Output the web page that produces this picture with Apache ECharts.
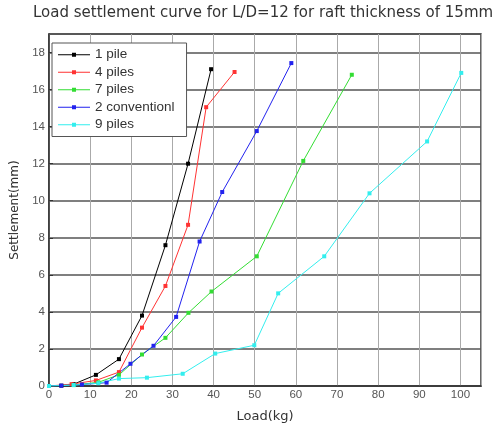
<!DOCTYPE html>
<html><head><meta charset="utf-8">
<script src="https://cdn.jsdelivr.net/npm/echarts@6/dist/echarts.min.js"></script>
<style>html,body{margin:0;padding:0;background:#fff}#c{width:504px;height:428px}</style>
</head><body><div id="c"></div>
<script>
const seriesNames = ['1 pile','4 piles','7 piles','2 conventionl','9 piles'];
const onePile = [[0,0],[3,0.02],[6,0.1],[11.4,0.6],[17,1.45],[22.6,3.8],[28.3,7.6],[33.8,12],[39.4,17.1]];
const fourPiles = [[0,0],[5.5,0.1],[11.4,0.3],[17,0.75],[22.6,3.15],[28.3,5.4],[33.8,8.7],[38.2,15.05],[45.1,16.95]];
const sevenPiles = [[0,0],[6,0.05],[12,0.2],[17,0.6],[22.6,1.7],[28.3,2.6],[33.9,3.95],[39.5,5.1],[50.5,7.0],[61.8,12.15],[73.6,16.8]];
const twoConv = [[0,0],[3,0.02],[8,0.08],[14,0.18],[19.8,1.2],[25.4,2.17],[30.9,3.73],[36.6,7.8],[42.1,10.47],[50.5,13.76],[58.9,17.43]];
const ninePiles = [[0,0],[6,0.05],[12,0.15],[17,0.4],[23.8,0.45],[32.5,0.66],[40.4,1.75],[49.9,2.2],[55.7,5],[66.9,7],[77.9,10.4],[91.9,13.2],[100.2,16.9]];
const colors = ['#000000','#ff3333','#33dd33','#2222ee','#33eeee'];
const allData = [onePile,fourPiles,sevenPiles,twoConv,ninePiles];

const chart = echarts.init(document.getElementById('c'));
chart.setOption({
  animation:false,
  textStyle:{fontFamily:'Liberation Sans'},
  title:{text:'Load settlement curve for L/D=12 for raft thickness of 15mm',left:33,top:6,padding:0,
    textStyle:{fontSize:15,fontWeight:'normal',color:'#333',fontFamily:'DejaVu Sans'}},
  grid:{left:49,right:23,top:34,bottom:40,show:true,borderColor:'#333',borderWidth:1.5},
  legend:{left:52,top:43,orient:'vertical',itemGap:2,itemWidth:32,itemHeight:12,
    backgroundColor:'#fff',borderColor:'#555',borderWidth:1,padding:[4,12,4,6],
    textStyle:{fontSize:13.5,lineHeight:15.5,color:'#333',fontFamily:'Liberation Sans'},
    data:seriesNames.map(n=>({name:n,icon:'path://M0,4.5 L32,4.5 L32,5.5 L0,5.5 Z M14,3 L18,3 L18,7 L14,7 Z'}))},
  xAxis:{type:'value',min:0,max:105,interval:10,
    name:'Load(kg)',nameLocation:'middle',nameGap:24,nameTextStyle:{fontSize:13,color:'#333',fontFamily:'DejaVu Sans'},
    axisLine:{lineStyle:{color:'#333',width:1.5}},axisTick:{show:false},
    axisLabel:{color:'#555',fontSize:11.5,margin:3,showMaxLabel:false},
    splitLine:{lineStyle:{color:'#aaa',width:1}}},
  yAxis:{type:'value',min:0,max:19,interval:2,
    name:'Settlement(mm)',nameLocation:'middle',nameGap:28,nameTextStyle:{fontSize:12,color:'#333',fontFamily:'DejaVu Sans'},
    axisLine:{lineStyle:{color:'#333',width:1.5}},axisTick:{show:true,inside:true,length:4,lineStyle:{color:'#333'}},
    axisLabel:{color:'#555',fontSize:11.5,margin:4,showMaxLabel:false},
    splitLine:{lineStyle:{color:'#555',width:1.5}}},
  series: seriesNames.map((n,i)=>({
    name:n,type:'line',data:allData[i],symbol:'rect',symbolSize:4,showSymbol:true,
    lineStyle:{width:1,color:colors[i]},itemStyle:{color:colors[i]}
  }))
});
</script></body></html>
